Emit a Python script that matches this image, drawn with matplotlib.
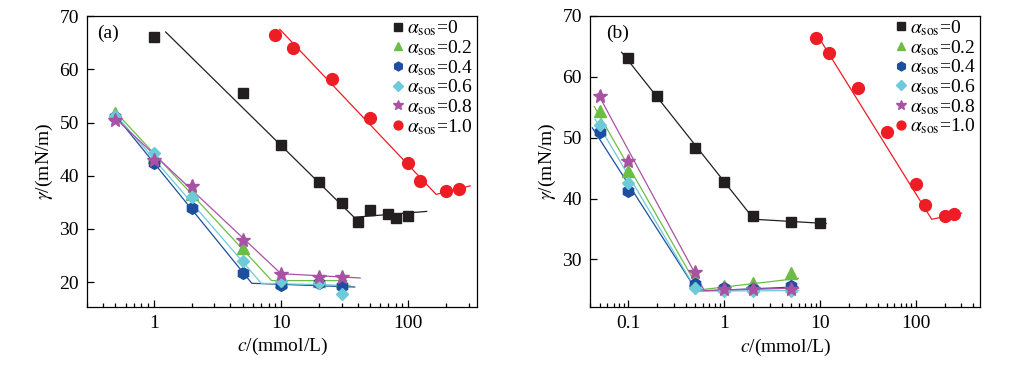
import matplotlib
matplotlib.use('Agg')
import matplotlib.pyplot as plt
from matplotlib.ticker import FixedLocator, LogLocator, FuncFormatter, NullLocator

plt.rcParams['font.family'] = ['Liberation Serif', 'DejaVu Serif']
plt.rcParams['mathtext.fontset'] = 'stix'

# ---- panel (a) data ----
labels = ['0', '0.2', '0.4', '0.6', '0.8', '1.0']
colors = ['#231f20', '#6cbd45', '#1d4ea0', '#6ccbd8', '#a952a3', '#ee1c24']
markers = ['s', '^', 'h', 'D', '*', 'o']
msizes = [7.5, 8.5, 8.5, 6.5, 10.5, 8.5]

a_x0 = [1, 5, 10, 20, 30, 40, 50, 70, 80, 100]
a_y0 = [66.1, 55.6, 45.7, 38.9, 34.8, 31.4, 33.6, 32.8, 32.0, 32.5]
a_x_low = [0.5, 1, 2, 5, 10, 20, 30]
a_y02 = [51.7, 43.5, 36.5, 26.4, 20.3, 20.2, 20.3]
a_y04 = [51.0, 42.3, 34.0, 21.8, 19.5, 19.8, 19.2]
a_y06 = [51.3, 44.2, 36.0, 24.0, 20.2, 19.8, 17.7]
a_y08 = [50.5, 43.0, 38.0, 28.0, 21.5, 21.0, 20.9]
a_x10 = [9, 12.5, 25, 50, 100, 125, 200, 250]
a_y10 = [66.4, 64.0, 58.1, 50.9, 42.4, 39.0, 37.2, 37.5]

# fitted lines (a)
a_fx = [[1.24, 37.6, 140], [0.5, 8.45, 33], [0.5, 5.9, 38],
        [0.5, 7.0, 35], [0.5, 10, 42], [9.8, 166, 308]]
a_fy = [[67.0, 32.2, 33.3], [52.0, 20.3, 20.3], [51.3, 19.8, 19.1],
        [51.5, 19.8, 19.4], [50.8, 21.6, 20.8], [67.5, 36.5, 38.1]]

# ---- panel (b) data ----
b_x0 = [0.1, 0.2, 0.5, 1, 2, 5, 10]
b_y0 = [63.1, 56.8, 48.3, 42.7, 37.1, 36.2, 36.0]
b_x_low = [0.05, 0.1, 0.5, 1, 2, 5]
b_y02 = [54.3, 44.5, 26.6, 25.6, 26.2, 27.7]
b_y04 = [51.0, 41.3, 26.0, 25.3, 25.1, 25.6]
b_y06 = [52.1, 42.6, 25.3, 24.8, 24.8, 24.8]
b_y08 = [56.9, 46.1, 28.0, 25.2, 25.1, 25.2]
b_x10 = [9, 12.5, 25, 50, 100, 125, 200, 250]
b_y10 = [66.4, 63.9, 58.1, 50.9, 42.4, 38.9, 37.1, 37.5]

b_fx = [[0.085, 2.05, 11.6], [0.044, 0.55, 5.95], [0.042, 0.52, 5.86],
        [0.045, 0.52, 6.0], [0.048, 0.62, 6.0], [9.4, 147, 302]]
b_fy = [[64.0, 36.6, 35.9], [55.1, 25.0, 26.9], [51.6, 24.8, 25.5],
        [53.0, 24.8, 24.9], [57.2, 24.9, 25.3], [66.8, 36.6, 37.6]]


def draw(ax, xs, ys, fx, fy, xlim, ylim, xticks, tag, tagx):
    for i in range(6):
        ax.plot(fx[i], fy[i], color=colors[i], lw=0.9, zorder=2)
    for i in range(6):
        ax.plot(xs[i], ys[i], ls='none', marker=markers[i], ms=msizes[i],
                color=colors[i], mec=colors[i], zorder=3,
                label=r'$\alpha_{\rm sos}$=' + labels[i])
    ax.set_xscale('log')
    ax.set_xlim(*xlim)
    ax.set_ylim(*ylim)
    ax.xaxis.set_major_locator(FixedLocator(xticks))
    ax.xaxis.set_major_formatter(FuncFormatter(lambda v, _: f'{v:g}'))
    ax.xaxis.set_minor_locator(LogLocator(base=10, subs=range(2, 10), numticks=20))
    ax.set_yticks([20, 30, 40, 50, 60, 70] if ylim[0] < 20 else [30, 40, 50, 60, 70])
    ax.yaxis.set_minor_locator(NullLocator())
    ax.tick_params(which='both', direction='in', top=False, right=False,
                   labelsize=14, width=0.9)
    ax.tick_params(which='major', length=5, pad=6)
    ax.tick_params(which='minor', length=3)
    for s in ax.spines.values():
        s.set_linewidth(0.9)
    ax.set_xlabel(r'$c$/(mmol/L)', fontsize=14, labelpad=3)
    ax.set_ylabel(r'$\gamma$/(mN/m)', fontsize=14, labelpad=3)
    ax.text(tagx, 0.94, tag, transform=ax.transAxes, fontsize=14,
            ha='left', va='center')
    ax.legend(loc='upper right', bbox_to_anchor=(1.0, 1.005), frameon=False,
              fontsize=14, labelspacing=0.0, markerscale=0.75,
              handlelength=0.6, handletextpad=0.15, borderaxespad=0.0,
              borderpad=0.2)


fig = plt.figure(figsize=(10.16, 3.65), dpi=100)
ax1 = fig.add_axes([0.0859, 0.1597, 0.3839, 0.7964])
ax2 = fig.add_axes([0.581, 0.1589, 0.3836, 0.798])

draw(ax1, [a_x0, a_x_low, a_x_low, a_x_low, a_x_low, a_x10],
     [a_y0, a_y02, a_y04, a_y06, a_y08, a_y10], a_fx, a_fy,
     (0.3, 350), (15.4, 70), [1, 10, 100], '(a)', 0.026)
draw(ax2, [b_x0, b_x_low, b_x_low, b_x_low, b_x_low, b_x10],
     [b_y0, b_y02, b_y04, b_y06, b_y08, b_y10], b_fx, b_fy,
     (0.04, 470), (22.2, 70), [0.1, 1, 10, 100], '(b)', 0.041)

fig.savefig('out.png', dpi=100)
